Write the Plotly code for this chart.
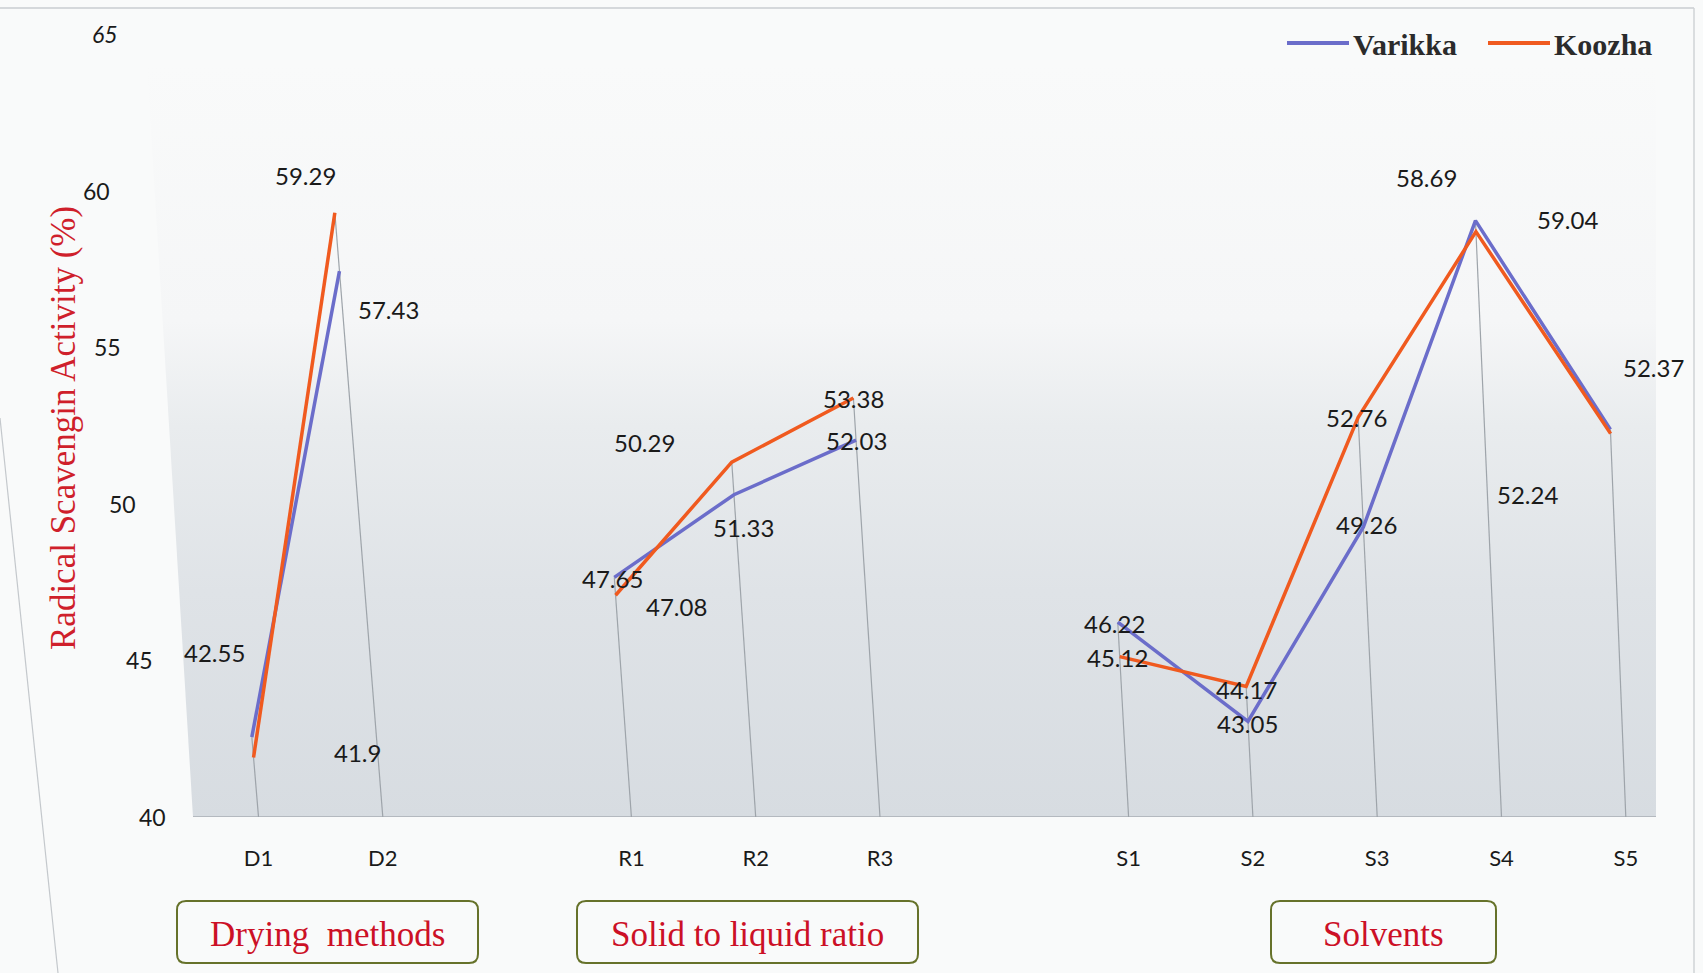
import plotly.graph_objects as go

# ---- data -------------------------------------------------------------
categories = ["D1", "D2", "R1", "R2", "R3", "S1", "S2", "S3", "S4", "S5"]
slots = [0, 1, 3, 4, 5, 7, 8, 9, 10, 11]          # empty slot between groups
varikka = [42.55, 57.43, 47.65, 50.29, 52.03, 46.22, 43.05, 49.26, 59.04, 52.37]
koozha = [41.9, 59.29, 47.08, 51.33, 53.38, 45.12, 44.17, 52.76, 58.69, 52.24]
y_ticks = [40, 45, 50, 55, 60, 65]
group_names = ["Drying\u00a0 methods", "Solid to liquid ratio", "Solvents"]

# ---- style ------------------------------------------------------------
W, H = 1703, 973
L, R, T, B = 140, 47, 34, 156
PX_PER_SLOT = 124.3
X0_PX = 258.5                                  # pixel of slot 0
X_RANGE = [(L - X0_PX) / PX_PER_SLOT, (W - R - X0_PX) / PX_PER_SLOT]
Y_RANGE = [40, 65]
FLOOR_LEFT = (193 - X0_PX) / PX_PER_SLOT

C_VAR = "#6b6dca"
C_KOO = "#f05a1f"
SANS = "Lato, 'Open Sans', sans-serif"
LABEL_FONT = dict(family=SANS, size=24, color="#1a1a1a")
SERIF = "'Liberation Serif', 'Times New Roman', serif"

# horizontal pixel centre of each value-axis label (the wall leans back)
tick_label_px = [152, 139, 122, 107, 96, 105]

# pixel offsets of each data label from its point
label_offsets = {
    "Varikka": [(-37, -85), (49, 38), (-2, 1), (-89, -52), (0, 0),
                (-3, 1), (0, 2), (3, -2), (92, -1), (43, -62)],
    "Koozha": [(104, -5), (-29, -37), (61, 11), (12, 65), (0, 1),
               (-2, 1), (0, 3), (-2, 0), (-49, -54), (-83, 61)],
}


def depth_x(slot, v):
    """Pseudo-3D projection: points lean left as they rise above the floor."""
    return slot - (0.021 - 0.001 * slot) * (v - Y_RANGE[0])


def paper_x(px):
    return (px - L) / (W - L - R)


def paper_y(py):
    return (H - B - py) / (H - T - B)


def value_to_py(v):
    return (H - B) - (v - Y_RANGE[0]) / (Y_RANGE[1] - Y_RANGE[0]) * (H - T - B)


fig = go.Figure()

# back wall with a vertical gradient
fig.add_trace(go.Scatter(
    x=[FLOOR_LEFT, X_RANGE[1], X_RANGE[1], FLOOR_LEFT - 0.37],
    y=[40, 40, 64, 64],
    fill="toself", mode="lines", line=dict(width=0),
    fillgradient=dict(type="vertical", start=40, stop=64,
                      colorscale=[[0, "#d7dce1"], [0.3, "#dfe3e7"], [0.52, "#e9ecee"],
                                  [0.66, "#f5f6f7"], [1, "#f9fafa"]]),
    hoverinfo="skip", showlegend=False))

# floor line
fig.add_trace(go.Scatter(
    x=[FLOOR_LEFT, X_RANGE[1]], y=[40, 40], mode="lines",
    line=dict(color="#a9aeb3", width=1.5), hoverinfo="skip", showlegend=False))

# drop lines from the highest point of each category to the floor
dx, dy = [], []
for s, a, b in zip(slots, varikka, koozha):
    top = max(a, b)
    dx += [depth_x(s, top), s, None]
    dy += [top, 40, None]
fig.add_trace(go.Scatter(
    x=dx, y=dy, mode="lines", line=dict(color="#9ea4aa", width=1.2),
    hoverinfo="skip", showlegend=False))

# the two series, one segment run per group
group_bounds = [(0, 2), (2, 5), (5, 10)]
for name, vals, col in [("Varikka", varikka, C_VAR), ("Koozha", koozha, C_KOO)]:
    xs, ys = [], []
    for i0, i1 in group_bounds:
        for i in range(i0, i1):
            xs.append(depth_x(slots[i], vals[i]))
            ys.append(vals[i])
        xs.append(None)
        ys.append(None)
    fig.add_trace(go.Scatter(x=xs, y=ys, mode="lines", name=name,
                             line=dict(color=col, width=3.5),
                             connectgaps=False, showlegend=False))

annotations = []

# data labels
for name, vals in [("Varikka", varikka), ("Koozha", koozha)]:
    for i, v in enumerate(vals):
        ox, oy = label_offsets[name][i]
        annotations.append(dict(
            x=depth_x(slots[i], v), y=v, xref="x", yref="y",
            text=f"{v:g}", showarrow=True, arrowcolor="rgba(0,0,0,0)",
            ax=ox, ay=oy, font=LABEL_FONT))

# value axis labels, leaning with the wall
for v, px in zip(y_ticks, tick_label_px):
    txt = f"<i>{v}</i>" if v == Y_RANGE[1] else str(v)
    annotations.append(dict(
        x=paper_x(px), y=paper_y(value_to_py(v)),
        xref="paper", yref="paper",
        text=txt, showarrow=False, xanchor="center", yanchor="middle",
        font=dict(family=SANS, size=23, color="#1a1a1a")))

# axis title
annotations.append(dict(
    x=paper_x(64), y=paper_y(428), xref="paper", yref="paper",
    text="Radical Scavengin Activity (%)", textangle=-90, showarrow=False,
    xanchor="center", yanchor="middle",
    font=dict(family=SERIF, size=35, color="#cf1f2b")))

# group captions in rounded boxes
box_px = [(177, 478), (577, 918), (1271, 1496)]
y_top, y_bot = 901, 963
shapes = []
for (xa, xb), g in zip(box_px, group_names):
    r = 9
    ya, yb = y_top, y_bot
    pts = [
        f"M {paper_x(xa + r)},{paper_y(ya)}",
        f"L {paper_x(xb - r)},{paper_y(ya)}",
        f"Q {paper_x(xb)},{paper_y(ya)} {paper_x(xb)},{paper_y(ya + r)}",
        f"L {paper_x(xb)},{paper_y(yb - r)}",
        f"Q {paper_x(xb)},{paper_y(yb)} {paper_x(xb - r)},{paper_y(yb)}",
        f"L {paper_x(xa + r)},{paper_y(yb)}",
        f"Q {paper_x(xa)},{paper_y(yb)} {paper_x(xa)},{paper_y(yb - r)}",
        f"L {paper_x(xa)},{paper_y(ya + r)}",
        f"Q {paper_x(xa)},{paper_y(ya)} {paper_x(xa + r)},{paper_y(ya)}",
        "Z",
    ]
    shapes.append(dict(type="path", xref="paper", yref="paper", path=" ".join(pts),
                       line=dict(color="#66722a", width=2), fillcolor="rgba(0,0,0,0)"))
    annotations.append(dict(
        x=paper_x((xa + xb) / 2), y=paper_y((ya + yb) / 2 + 2), xref="paper", yref="paper",
        text=g, showarrow=False, xanchor="center", yanchor="middle",
        font=dict(family=SERIF, size=35, color="#cc1026")))

# legend
legend_items = [("Varikka", C_VAR, 1287, 1349, 1351), ("Koozha", C_KOO, 1488, 1550, 1552)]
for name, col, l0, l1, tx in legend_items:
    shapes.append(dict(type="line", xref="paper", yref="paper",
                       x0=paper_x(l0), x1=paper_x(l1), y0=paper_y(43), y1=paper_y(43),
                       line=dict(color=col, width=4)))
    annotations.append(dict(
        x=paper_x(tx), y=paper_y(44), xref="paper", yref="paper", text=f"<b>{name}</b>",
        showarrow=False, xanchor="left", yanchor="middle",
        font=dict(family=SERIF, size=30, color="#2b2b2b")))

# frame edges
shapes.append(dict(type="line", xref="paper", yref="paper",
                   x0=paper_x(0), x1=paper_x(1694), y0=paper_y(8), y1=paper_y(8),
                   line=dict(color="#c9cdd1", width=1.5)))
shapes.append(dict(type="line", xref="paper", yref="paper",
                   x0=paper_x(1694), x1=paper_x(1694), y0=paper_y(8), y1=paper_y(973),
                   line=dict(color="#cfd3d6", width=1.5)))
shapes.append(dict(type="line", xref="paper", yref="paper",
                   x0=paper_x(0), x1=paper_x(58), y0=paper_y(418), y1=paper_y(973),
                   line=dict(color="#c4c8cc", width=1.2)))

fig.update_layout(
    width=W, height=H,
    margin=dict(l=L, r=R, t=T, b=B),
    paper_bgcolor="#f9fafa", plot_bgcolor="rgba(0,0,0,0)",
    showlegend=False,
    xaxis=dict(range=X_RANGE, tickvals=slots, ticktext=categories,
               showgrid=False, zeroline=False, showline=False, ticks="",
               ticklabelstandoff=26,
               tickfont=dict(family=SANS, size=22, color="#1a1a1a")),
    yaxis=dict(range=Y_RANGE, showticklabels=False, showgrid=False,
               zeroline=False, showline=False, ticks=""),
    annotations=annotations, shapes=shapes,
)

fig.write_html("out.html")
